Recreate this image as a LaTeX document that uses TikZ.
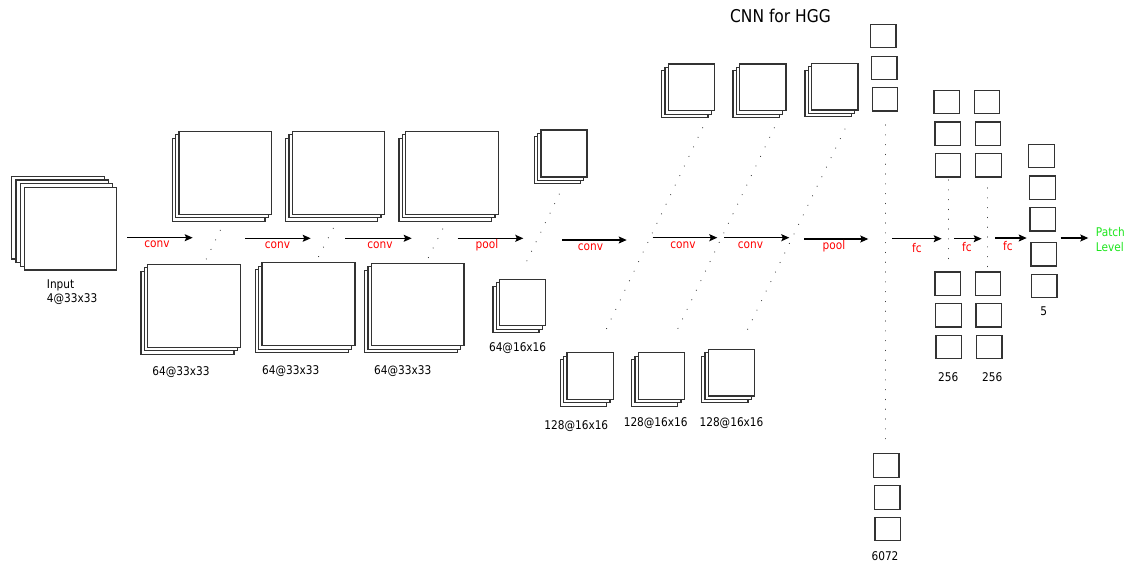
\documentclass[tikz,border=0pt]{standalone}
\usepackage{fontspec}
\setmainfont{DejaVu Sans}[FakeStretch=0.88]
\usetikzlibrary{arrows.meta,calc}
\definecolor{lblred}{RGB}{255,0,0}
\definecolor{lblgreen}{RGB}{30,230,30}
\newcommand\fstack[6]{%
  \foreach \k in {#5,...,1}{\draw[fmap,shift={(-\k*#6,\k*#6)}] (#1,#2) rectangle (#3,#4);}
  \draw[fmap] (#1,#2) rectangle (#3,#4);}
\begin{document}
\begin{tikzpicture}[x=1pt,y=-1pt,
  fmap/.style={draw=black!80,line width=1.2pt,fill=white},
  sq/.style={draw=black!80,line width=1.2pt,fill=white,minimum width=25.5pt,minimum height=23.5pt,inner sep=0pt},
  flow/.style={draw=black,line width=1.1pt,-{Stealth[length=8pt,width=7pt,inset=1.5pt]}},
  dots/.style={draw=black!75,line width=1.1pt,line cap=round,dash pattern=on 0.1pt off 10.5pt},
  vdots/.style={dots,dash pattern=on 0.1pt off 9.7pt},
  txt/.style={font=\fontsize{12}{14}\selectfont,inner sep=0pt,anchor=base},
  op/.style={txt,text=lblred},
]
\useasboundingbox (0,0) rectangle (1128,565);
\fill[white] (0,0) rectangle (1128,565);

% input stack
\foreach \k in {3,2,1}{\draw[fmap,shift={(-\k*4.2,-\k*3.7)}] (24.3,187.3) rectangle (116.7,270);}
\draw[fmap] (24.3,187.3) rectangle (116.7,270);

% first block of feature maps
\fstack{179}{131.3}{271.7}{214.3}{2}{3.4}
\fstack{292.3}{131.3}{384.3}{214.3}{2}{3.4}
\fstack{405.7}{131.3}{498.3}{214.3}{2}{3.4}
\fstack{147.7}{264.3}{240.7}{347.3}{2}{3.4}
\fstack{262}{262.7}{355}{345.7}{2}{3.4}
\fstack{371.3}{263.3}{464}{345.7}{2}{3.4}
\fstack{541}{130}{587}{177}{2}{3.4}
\fstack{499.7}{279.3}{545.7}{325.7}{2}{3.4}
% second block
\fstack{668.3}{64}{714.7}{110.7}{2}{3.4}
\fstack{739.7}{64}{786}{110.7}{2}{3.4}
\fstack{811.7}{63.3}{858}{110}{2}{3.4}
\fstack{567}{352.7}{613.3}{399.3}{2}{3.4}
\fstack{638.3}{352.7}{684.3}{399.3}{2}{3.4}
\fstack{708.3}{349.3}{754.7}{396}{2}{3.4}

% dotted guide lines
\coordinate (d1a) at (220.3,230.3); \coordinate (d1b) at (205.7,260.3);
\coordinate (d2a) at (333.3,228.3); \coordinate (d2b) at (317.7,258.3);
\coordinate (d3a) at (442.7,229);   \coordinate (d3b) at (427.7,259);
\coordinate (d4a) at (559.3,194);   \coordinate (d4b) at (523.3,268.3);
\coordinate (l1a) at (702.7,127.7); \coordinate (l1b) at (604,334);
\coordinate (l2a) at (774.3,127.7); \coordinate (l2b) at (675.3,334);
\coordinate (l3a) at (845,129);     \coordinate (l3b) at (746,332.7);
\foreach \p in {d1,d2,d3,d4,l1,l2,l3}{\draw[dots] (\p a) -- (\p b);}
\coordinate (v1a) at (885.7,125); \coordinate (v1b) at (885.7,448);
\coordinate (v2a) at (948.3,180); \coordinate (v2b) at (948.3,267);
\coordinate (v3a) at (987.3,188); \coordinate (v3b) at (987.3,267);
\foreach \p in {v1,v2,v3}{\draw[vdots] (\p a) -- (\p b);}

% fully connected columns
\node[sq] (f1) at (883.3,36) {};
\node[sq] (f2) at (884.3,68) {};
\node[sq] (f3) at (885,99.3) {};
\node[sq] (f4) at (886.2,465.5) {};
\node[sq] (f5) at (887.2,497.5) {};
\node[sq] (f6) at (887.7,529) {};
\node[sq] (g1) at (946.8,102) {};
\node[sq] (g2) at (947.7,133.8) {};
\node[sq] (g3) at (948,165.3) {};
\node[sq] (g4) at (947.8,283.7) {};
\node[sq] (g5) at (948.5,315.3) {};
\node[sq] (g6) at (948.8,347) {};
\node[sq] (h1) at (987,102) {};
\node[sq] (h2) at (988,133.8) {};
\node[sq] (h3) at (988.5,165.3) {};
\node[sq] (h4) at (988,283.7) {};
\node[sq] (h5) at (988.8,315.3) {};
\node[sq] (h6) at (989.3,347) {};
\node[sq] (o1) at (1041.5,156) {};
\node[sq] (o2) at (1042.5,187.7) {};
\node[sq] (o3) at (1042.8,219.3) {};
\node[sq] (o4) at (1043.8,254.3) {};
\node[sq] (o5) at (1044.3,286) {};

% flow arrows
\coordinate (a1s) at (127.3,237.7); \coordinate (a1e) at (192.7,237.7);
\coordinate (a2s) at (245,238.3);   \coordinate (a2e) at (310.7,238.3);
\coordinate (a3s) at (345.3,238.3); \coordinate (a3e) at (411.7,238.3);
\coordinate (a4s) at (457.7,238.3); \coordinate (a4e) at (523.3,238.3);
\coordinate (a5s) at (562,240);     \coordinate (a5e) at (626.7,240);
\coordinate (a6s) at (652.7,237.7); \coordinate (a6e) at (717.3,237.7);
\coordinate (a7s) at (724.3,237.7); \coordinate (a7e) at (789.3,237.7);
\coordinate (a8s) at (804,239);     \coordinate (a8e) at (868.3,239);
\coordinate (a9s) at (892.3,238.7); \coordinate (a9e) at (941.7,238.7);
\coordinate (a10s) at (954.3,238.7); \coordinate (a10e) at (981.7,238.7);
\coordinate (a11s) at (995,238);    \coordinate (a11e) at (1026.7,238);
\coordinate (a12s) at (1060.7,238); \coordinate (a12e) at (1088.3,238);
\foreach \i in {1,...,12}{\draw[flow] (a\i s) -- (a\i e);}

% operation labels
\node[op] (c1) at (157,247) {conv};
\node[op] (c2) at (277.5,248.3) {conv};
\node[op] (c3) at (380,248.3) {conv};
\node[op] (p1) at (487,248) {pool};
\node[op] (c4) at (590.5,250.5) {conv};
\node[op] (c5) at (683,248.5) {conv};
\node[op] (c6) at (750.5,248.5) {conv};
\node[op] (p2) at (834,249.5) {pool};
\node[op] (fc1) at (917,252.5) {fc};
\node[op] (fc2) at (967,251.5) {fc};
\node[op] (fc3) at (1008,250.5) {fc};
\node[txt,anchor=base west,text=lblgreen] (out1) at (1095.7,236.5) {Patch};
\node[txt,anchor=base west,text=lblgreen] (out2) at (1095.7,251.5) {Level};

% size labels
\node[txt,anchor=base west] (in1) at (46.7,288.3) {Input};
\node[txt,anchor=base west] (in2) at (46.7,302.8) {4@33x33};
\node[txt] (s1) at (181,375.5) {64@33x33};
\node[txt] (s2) at (290.7,374.5) {64@33x33};
\node[txt] (s3) at (402.7,374.5) {64@33x33};
\node[txt] (s4) at (517.6,351) {64@16x16};
\node[txt] (s5) at (576.3,429) {128@16x16};
\node[txt] (s6) at (655.7,426.3) {128@16x16};
\node[txt] (s7) at (731.5,426) {128@16x16};
\node[txt] (n1) at (885,560) {6072};
\node[txt] (n2) at (948.3,381.5) {256};
\node[txt] (n3) at (992.3,381.7) {256};
\node[txt] (n4) at (1043.7,315) {5};
\node[txt,font=\fontsize{17.6}{20}\selectfont] (title) at (780.5,22.5) {CNN for HGG};
\end{tikzpicture}
\end{document}
